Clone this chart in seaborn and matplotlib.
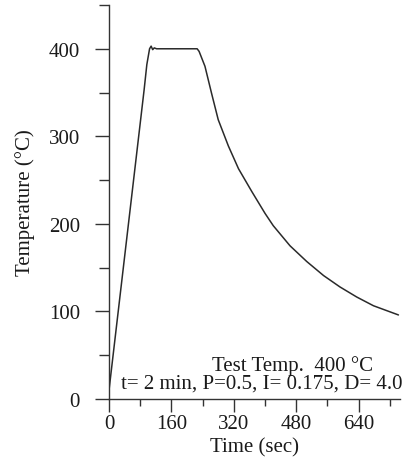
import matplotlib
matplotlib.use("Agg")
import matplotlib.pyplot as plt
import seaborn as sns
import pandas as pd
from matplotlib.ticker import MultipleLocator

time_s = [0, 90, 97, 104, 108, 112, 116, 122, 150, 200, 226, 231, 246, 263, 280, 306, 332,
          366, 400, 421, 464, 507, 550, 592, 635, 678, 742]
temp_c = [10, 353, 382, 400, 403, 399, 401, 400, 400, 400, 400, 397, 380, 349, 319, 289, 263,
          237, 212, 198, 175, 157, 141, 128, 116.5, 106.5, 96]
x_ticks = [0, 160, 320, 480, 640]
y_ticks = [0, 100, 200, 300, 400]
annot_1 = "Test Temp.  400 °C"
annot_2 = "t= 2 min, P=0.5, I= 0.175, D= 4.0"

df = pd.DataFrame({"Time (sec)": time_s, "Temperature (°C)": temp_c})

sns.set_theme(style="ticks")
plt.rcParams["font.family"] = ["Liberation Serif", "DejaVu Serif"]

fig = plt.figure(figsize=(4.11, 4.64), dpi=100)
ax = fig.add_axes([109 / 411, 1 - 400 / 464, (400 - 109) / 411, (400 - 6) / 464])

sns.lineplot(data=df, x="Time (sec)", y="Temperature (°C)", ax=ax,
             color="#2a2a2a", linewidth=1.1)

ax.set_xlim(0, 746)
ax.set_ylim(0, 450)
ax.set_xticks(x_ticks)
ax.set_yticks(y_ticks)
ax.xaxis.set_minor_locator(MultipleLocator(80))
ax.yaxis.set_minor_locator(MultipleLocator(50))

for side in ["top", "right"]:
    ax.spines[side].set_visible(False)
for side in ["left", "bottom"]:
    ax.spines[side].set_color("#333333")
    ax.spines[side].set_linewidth(1.0)

ax.tick_params(axis="both", which="major", direction="out", color="#333333",
               labelsize=15, labelcolor="#1a1a1a", width=1.0)
ax.tick_params(axis="y", which="major", length=10, pad=11)
ax.tick_params(axis="y", which="minor", length=7, width=1.0, color="#333333")
ax.tick_params(axis="x", which="major", length=9, pad=2)
ax.tick_params(axis="x", which="minor", length=5, width=1.0, color="#333333")

ax.set_xlabel("Time (sec)", fontsize=15, color="#1a1a1a", labelpad=3)
ax.set_ylabel("Temperature (°C)", fontsize=15, color="#1a1a1a", labelpad=10)

ax.text(0.63, 0.085, annot_1, transform=ax.transAxes, fontsize=15,
        color="#1a1a1a", ha="center", va="center")
ax.text(0.525, 0.04, annot_2, transform=ax.transAxes, fontsize=15,
        color="#1a1a1a", ha="center", va="center")

fig.savefig("out.png", dpi=100, facecolor="white")
